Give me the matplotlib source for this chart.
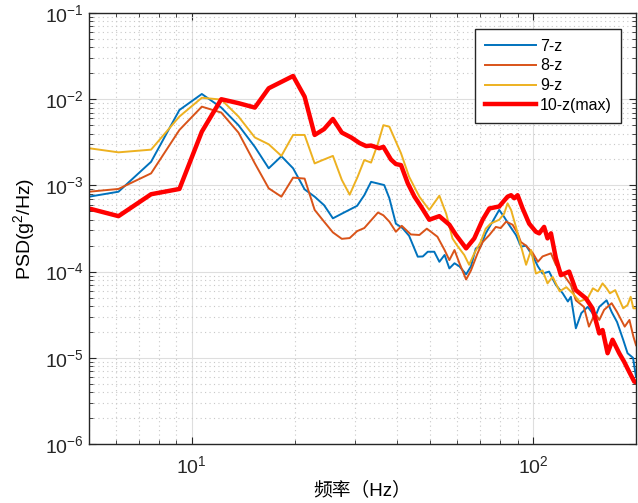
import numpy as np
import matplotlib
matplotlib.use("Agg")
import matplotlib.pyplot as plt
from matplotlib.ticker import LogLocator, NullFormatter

plt.rcParams['font.family'] = ['Liberation Sans', 'Noto Sans CJK SC', 'DejaVu Sans']
plt.rcParams['mathtext.fontset'] = 'custom'
plt.rcParams['mathtext.rm'] = 'Liberation Sans'
plt.rcParams['mathtext.it'] = 'Liberation Sans'

# 7-z
blue_f = [5.0, 6.1, 7.6, 9.2, 10.7, 12.2, 13.7, 15.3, 16.8, 18.3, 19.8, 21.4, 22.9, 24.4, 25.9, 27.5,
          30.5, 32.0, 33.5, 36.6, 37.9, 39.6, 41.4, 43.3, 45.9, 47.5, 49.1, 51.3, 53.1, 55.0, 56.8,
          58.8, 60.8, 63.6, 65.7, 67.9, 70.1, 72.6, 76.0, 79.5, 82.2, 84.9, 89.0, 92.1, 95.3, 99.8,
          103.2, 106.5, 111.3, 116.5, 122.0, 126.3, 128.9, 133.3, 138.3, 144.4, 151.9, 156.1, 164.0,
          169.7, 176.0, 183.4, 188.9, 196.0, 200.0]
blue_v = [7.4e-4, 8.45e-4, 1.88e-3, 7.5e-3, 1.15e-2, 8.0e-3, 5.0e-3, 2.8e-3, 1.58e-3, 2.18e-3, 1.58e-3,
          9.0e-4, 7.4e-4, 5.9e-4, 4.15e-4, 4.7e-4,
          5.8e-4, 7.7e-4, 1.1e-3, 1.01e-3, 7.1e-4, 3.6e-4, 3.2e-4, 2.6e-4, 1.49e-4, 1.5e-4, 1.7e-4,
          1.7e-4, 1.3e-4, 1.56e-4, 1.09e-4,
          1.25e-4, 1.15e-4, 9.3e-5, 1.15e-4, 1.86e-4, 1.95e-4, 2.78e-4, 3.8e-4, 5.2e-4, 4.3e-4, 3.5e-4,
          2.66e-4, 1.95e-4, 2.0e-4, 1.5e-4,
          1.15e-4, 9.5e-5, 1.0e-4, 7.0e-5, 5.6e-5, 4.5e-5, 5.1e-5, 2.2e-5, 3.3e-5, 3.9e-5, 3.0e-5,
          3.9e-5, 4.65e-5,
          3.4e-5, 2.6e-5, 1.62e-5, 1.13e-5, 1.0e-5, 6.0e-6]

# 8-z
orange_f = [5.0, 6.1, 7.6, 9.2, 10.7, 12.2, 13.7, 15.3, 16.8, 18.3, 19.8, 21.4, 22.9, 24.4, 25.9, 27.5,
            29.0, 30.5, 32.0, 35.1, 36.4, 37.9, 39.6, 41.2, 43.8, 46.4, 48.8, 52.4, 55.0, 56.8, 58.8,
            60.8, 63.6, 65.7, 68.7, 71.1, 74.4, 77.7, 80.3, 83.3, 87.0, 90.0, 92.0, 95.3, 99.8, 103.2,
            106.5, 112.7, 116.5, 122.0, 128.9, 133.3, 140.7, 145.6, 151.9, 156.1, 161.3, 169.7, 176.0,
            185.3, 191.3, 196.5, 200.0]
orange_v = [8.45e-4, 9.1e-4, 1.38e-3, 4.4e-3, 8.2e-3, 7.0e-3, 4.1e-3, 1.8e-3, 9.25e-4, 7.4e-4, 1.23e-3,
            1.2e-3, 5.2e-4, 3.8e-4, 2.85e-4, 2.4e-4,
            2.45e-4, 2.95e-4, 3.2e-4, 4.85e-4, 4.5e-4, 3.8e-4, 2.9e-4, 3.4e-4, 2.7e-4, 2.66e-4, 3.15e-4,
            2.54e-4, 1.78e-4, 1.36e-4, 1.78e-4,
            1.25e-4, 8.1e-5, 1.03e-4, 1.63e-4, 2.2e-4, 2.66e-4, 3.3e-4, 3.2e-4, 3.8e-4, 3.5e-4, 2.78e-4,
            2.2e-4, 2.0e-4, 1.63e-4, 1.3e-4,
            1.5e-4, 1.63e-4, 1.2e-4, 9.5e-5, 7.0e-5, 4.65e-5, 3.9e-5, 2.3e-5, 3.3e-5, 2.75e-5, 3.6e-5,
            4.3e-5, 3.4e-5,
            2.3e-5, 2.75e-5, 1.76e-5, 1.4e-5]

# 9-z
yellow_f = [5.0, 6.1, 7.6, 9.2, 10.7, 12.2, 13.7, 15.3, 16.8, 18.3, 19.8, 21.4, 22.9, 24.4, 25.9, 27.5,
            29.0, 30.6, 32.0, 33.5, 35.1, 36.4, 37.9, 41.0, 43.3, 46.4, 49.6, 53.1, 55.6, 58.0, 59.9,
            62.8, 64.9, 67.2, 70.1, 72.6, 75.0, 79.5, 82.2, 84.1, 86.1, 89.0, 92.0, 95.3, 98.6, 101.8,
            106.5, 110.1, 114.0, 119.5, 125.0, 130.5, 136.6, 144.4, 149.5, 154.7, 159.6, 164.0, 167.7,
            173.8, 183.4, 188.9, 192.9, 196.5, 200.0]
yellow_v = [2.7e-3, 2.42e-3, 2.6e-3, 6.3e-3, 1.04e-2, 9.9e-3, 6.3e-3, 3.6e-3, 3.0e-3, 2.2e-3, 3.85e-3,
            3.85e-3, 1.8e-3, 2.0e-3, 2.2e-3, 1.16e-3,
            7.8e-4, 1.26e-3, 1.97e-3, 1.84e-3, 3.08e-3, 5.0e-3, 4.8e-3, 2.36e-3, 1.26e-3, 7.4e-4, 5.2e-4,
            7.6e-4, 4.7e-4, 2.43e-4, 2.0e-4,
            1.56e-4, 1.2e-4, 1.63e-4, 2.2e-4, 3.15e-4, 3.6e-4, 4.0e-4, 4.7e-4, 6.2e-4, 5.2e-4, 3.3e-4,
            2.0e-4, 1.2e-4, 1.78e-4, 9.5e-5,
            1.03e-4, 7.3e-5, 8.7e-5, 5.9e-5, 6.6e-5, 5.6e-5, 4.5e-5, 4.9e-5, 6.4e-5, 5.9e-5, 7.3e-5,
            6.4e-5, 5.6e-5,
            6.1e-5, 3.75e-5, 4.1e-5, 5.1e-5, 3.75e-5, 3.75e-5]

# 10-z(max)
red_f = [5.0, 6.1, 7.6, 9.2, 10.7, 12.2, 13.7, 15.3, 16.8, 19.8, 21.4, 22.9, 24.4, 25.9, 27.5, 29.3,
         31.0, 32.4, 33.5, 35.4, 36.4, 38.3, 39.6, 41.0, 42.9, 44.9, 46.9, 49.6, 53.1, 56.8, 59.4,
         63.6, 67.2, 71.1, 74.4, 79.5, 84.1, 86.1, 88.0, 90.0, 93.1, 97.3, 101.8, 104.1, 107.6, 110.1,
         112.7, 116.5, 120.5, 127.4, 133.3, 142.6, 149.1, 156.1, 159.6, 165.1, 170.7, 178.6, 184.6,
         190.9, 197.6, 200.0]
red_v = [5.4e-4, 4.4e-4, 7.9e-4, 9.1e-4, 4.2e-3, 1.0e-2, 9.0e-3, 8.0e-3, 1.34e-2, 1.86e-2, 1.07e-2,
         3.85e-3, 4.5e-3, 5.9e-3, 4.1e-3, 3.6e-3,
         3.1e-3, 2.86e-3, 2.9e-3, 2.7e-3, 2.8e-3, 2.0e-3, 1.77e-3, 1.72e-3, 1.06e-3, 7.4e-4, 5.7e-4,
         4.0e-4, 4.4e-4, 3.5e-4, 2.66e-4,
         1.86e-4, 2.43e-4, 4.0e-4, 5.4e-4, 5.7e-4, 7.4e-4, 7.7e-4, 7.1e-4, 7.7e-4, 5.4e-4, 3.6e-4,
         2.9e-4, 2.78e-4, 3.3e-4, 2.43e-4,
         2.78e-4, 1.43e-4, 9.1e-5, 1.0e-4, 6.1e-5, 4.9e-5, 3.75e-5, 1.92e-5, 2.1e-5, 1.13e-5, 1.62e-5,
         1.13e-5, 9.0e-6,
         6.9e-6, 5.3e-6, 5.2e-6]

fig = plt.figure(figsize=(6.38, 5.03), dpi=100)
ax = fig.add_axes([0.1395, 0.1173, 0.8574, 0.8568])

ax.plot(blue_f, blue_v, color='#0072BD', lw=1.4, label='7-z')
ax.plot(orange_f, orange_v, color='#D95319', lw=1.4, label='8-z')
ax.plot(yellow_f, yellow_v, color='#EDB120', lw=1.4, label='9-z')
ax.plot(red_f, red_v, color='#FF0000', lw=3.2, label='10-z(max)')

ax.set_xscale('log')
ax.set_yscale('log')
ax.set_xlim(5, 200)
ax.set_ylim(1e-6, 1e-1)

ax.yaxis.set_major_locator(LogLocator(base=10, numticks=10))
ax.yaxis.set_minor_locator(LogLocator(base=10, subs=np.arange(2, 10), numticks=20))
ax.yaxis.set_minor_formatter(NullFormatter())
ax.xaxis.set_minor_formatter(NullFormatter())

ax.grid(True, which='major', color='#dedede', lw=0.8, ls='-')
ax.grid(True, which='minor', color='#c8c8c8', lw=0.8, ls=(0, (1, 3)))
ax.set_axisbelow(True)

for s in ax.spines.values():
    s.set_color('#262626')
    s.set_linewidth(1.0)
ax.tick_params(which='both', direction='in', top=True, right=True, colors='#262626', labelsize=14)
ax.tick_params(which='major', length=5)
ax.tick_params(which='minor', length=3)
ax.tick_params(axis='x', pad=8)

ax.set_xlabel('频率（Hz）', fontsize=13.5, labelpad=3)
ax.set_ylabel('PSD(g$^2$/Hz)', fontsize=14, labelpad=6)

leg = ax.legend(loc='upper right', bbox_to_anchor=(0.973, 0.963), borderaxespad=0, fontsize=11.5,
                fancybox=False, edgecolor='#262626', framealpha=1, handlelength=3.2, borderpad=0.6,
                labelspacing=0.3, handletextpad=0.25)
leg.get_frame().set_linewidth(1.0)

fig.savefig('out.png', dpi=100)
